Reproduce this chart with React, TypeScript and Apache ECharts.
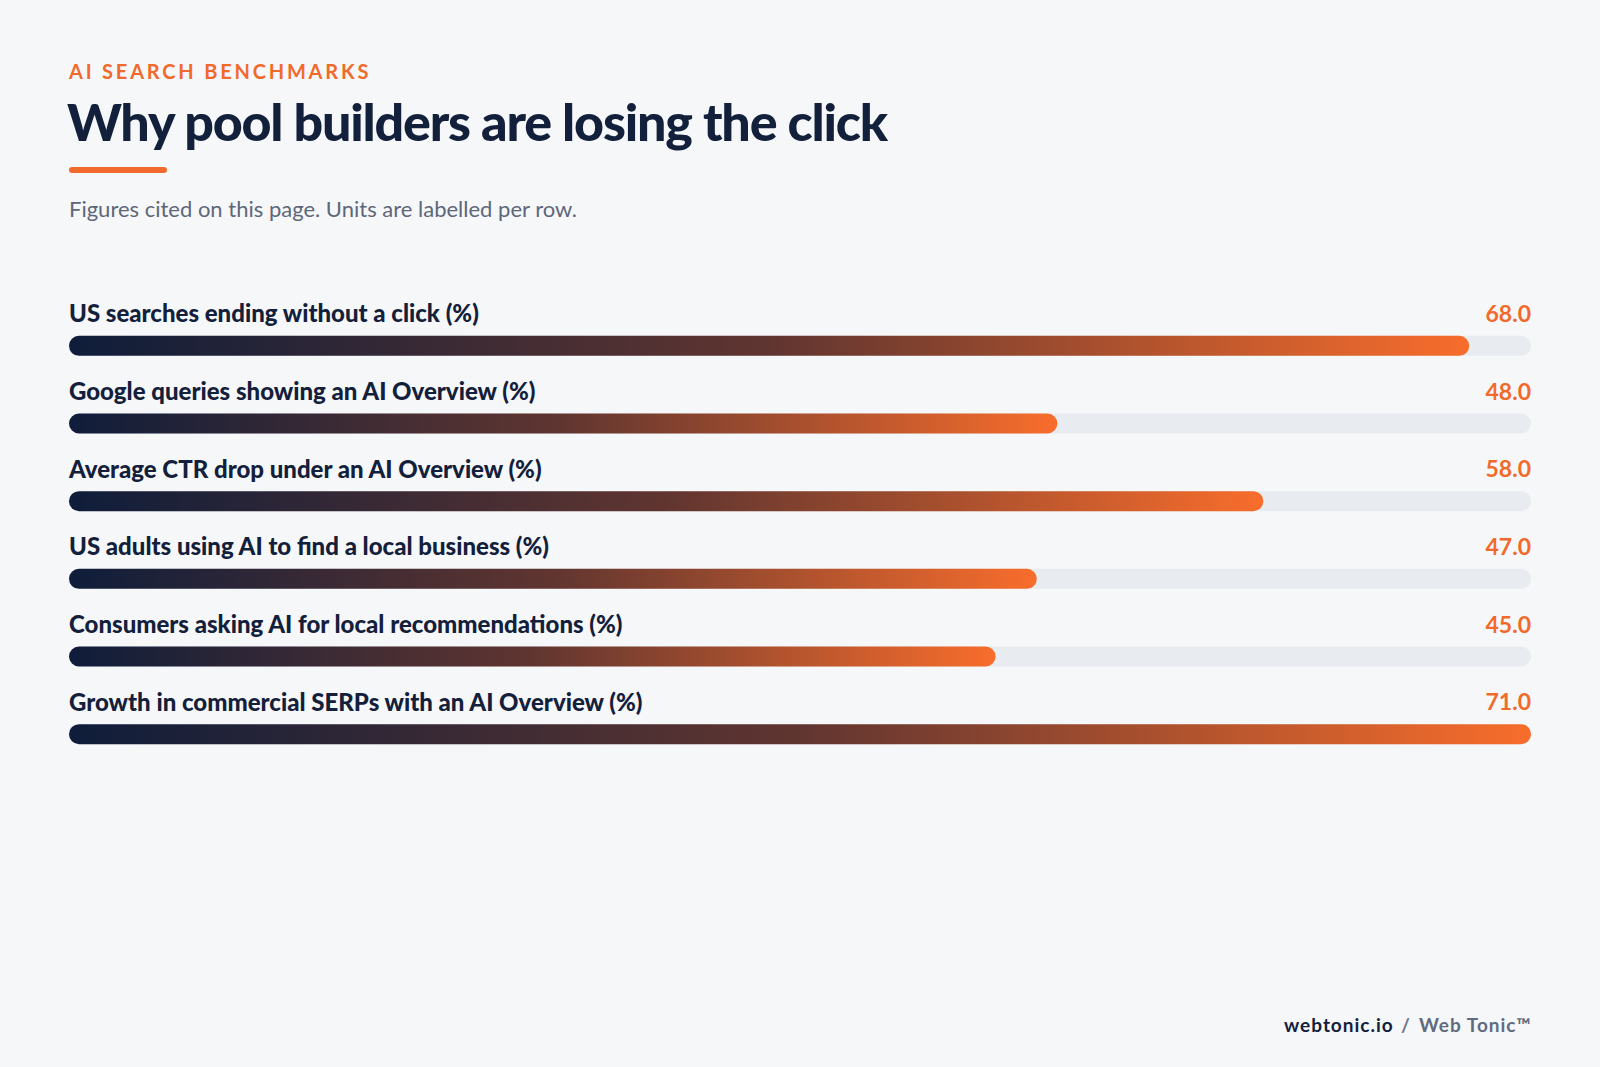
import React, { useEffect, useRef } from "react";
import * as echarts from "echarts";

const categories = [
  "US searches ending without a click (%)",
  "Google queries showing an AI Overview (%)",
  "Average CTR drop under an AI Overview (%)",
  "US adults using AI to find a local business (%)",
  "Consumers asking AI for local recommendations (%)",
  "Growth in commercial SERPs with an AI Overview (%)",
];
const values = [68.0, 48.0, 58.0, 47.0, 45.0, 71.0];
const axisMax = 71;

const kicker = "AI SEARCH BENCHMARKS";
const titleText = "Why pool builders are losing the click";
const subtitleText = "Figures cited on this page. Units are labelled per row.";
const footerSite = "webtonic.io";
const footerSep = "/";
const footerBrand = "Web Tonic™";

const NAVY = "#13203b";
const ORANGE = "#f26a2b";
const FONT = "Lato";

const css = `
text[style*="52px"]{letter-spacing:-1.2px;}
text[style*="20px"]{letter-spacing:2.8px;}
text[style*="19px"]{letter-spacing:1px;}
`;

export default function App() {
  const ref = useRef<HTMLDivElement>(null);
  useEffect(() => {
    if (!ref.current) return;
    const chart = echarts.init(ref.current, undefined, { renderer: "svg" });
    const option: any = {
      animation: false,
      backgroundColor: "#f6f7f9",
      grid: { left: 69, right: 69, top: 307, height: 466, containLabel: false },
      xAxis: { type: "value", min: 0, max: axisMax, show: false },
      yAxis: {
        type: "category",
        data: categories,
        inverse: true,
        show: false,
      },
      series: [
        {
          type: "bar",
          name: "track",
          data: categories.map(() => axisMax),
          barWidth: 20,
          barGap: "-100%",
          silent: true,
          itemStyle: { color: "#e8ebef", borderRadius: 10 },
          label: {
            show: true,
            position: ["100%", -23],
            align: "right",
            verticalAlign: "middle",
            formatter: (p: any) => values[p.dataIndex].toFixed(1),
            color: ORANGE,
            fontFamily: FONT,
            fontWeight: "bold",
            fontSize: 23,
          },
          z: 1,
        },
        {
          type: "bar",
          name: "value",
          data: values,
          barWidth: 20,
          barGap: "-100%",
          itemStyle: {
            borderRadius: 10,
            color: new echarts.graphic.LinearGradient(0, 0, 1, 0, [
              { offset: 0, color: "#0f1d3a" },
              { offset: 0.5, color: "#603530" },
              { offset: 1, color: "#f86d2c" },
            ]),
          },
          label: {
            show: true,
            position: [0, -23],
            align: "left",
            verticalAlign: "middle",
            formatter: (p: any) => categories[p.dataIndex],
            color: NAVY,
            fontFamily: FONT,
            fontWeight: 900,
            fontSize: 24,
          },
          z: 2,
        },
      ],
      graphic: [
        {
          type: "text",
          left: 69,
          top: 61,
          style: {
            text: kicker,
            fill: ORANGE,
            font: `bold 20px ${FONT}`,
          },
        },
        {
          type: "text",
          left: 67,
          top: 95,
          style: {
            text: titleText,
            fill: NAVY,
            font: `900 52px ${FONT}`,
          },
        },
        {
          type: "rect",
          shape: { x: 69, y: 167, width: 98, height: 6, r: 3 },
          style: { fill: ORANGE },
        },
        {
          type: "text",
          left: 69,
          top: 197,
          style: {
            text: subtitleText,
            fill: "#5d6779",
            font: `400 22px ${FONT}`,
          },
        },
        {
          type: "text",
          x: 1284,
          y: 1024,
          style: {
            text: footerSite,
            fill: NAVY,
            font: `bold 19px ${FONT}`,
            verticalAlign: "middle",
          },
        },
        {
          type: "text",
          x: 1401,
          y: 1024,
          style: {
            text: footerSep,
            fill: "#6b7689",
            font: `bold 19px ${FONT}`,
            verticalAlign: "middle",
          },
        },
        {
          type: "text",
          x: 1419,
          y: 1024,
          style: {
            text: footerBrand,
            fill: "#5f6b80",
            font: `bold 19px ${FONT}`,
            verticalAlign: "middle",
          },
        },
      ],
    };
    chart.setOption(option);
    return () => chart.dispose();
  }, []);
  return (
    <>
      <style>{css}</style>
      <div
        ref={ref}
        style={{ position: "fixed", left: 0, top: 0, width: 1600, height: 1067 }}
      />
    </>
  );
}
